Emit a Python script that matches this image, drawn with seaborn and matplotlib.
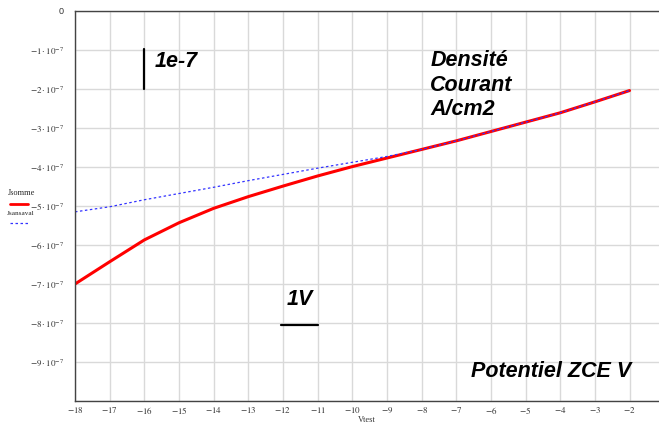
import matplotlib
matplotlib.use("Agg")
import matplotlib.pyplot as plt
import pandas as pd
import seaborn as sns
from matplotlib.lines import Line2D
from matplotlib.ticker import FixedLocator, FuncFormatter

# Vtest values and current densities (A/cm2)
vtest = [-18, -17, -16, -15, -14, -13, -12, -11, -10, -9, -8, -7, -6, -5, -4, -3, -2]
jsomme = [-7.00, -6.43, -5.87, -5.43, -5.06, -4.76, -4.49, -4.23, -3.99, -3.77,
          -3.55, -3.33, -3.09, -2.85, -2.61, -2.33, -2.04]
jsansaval = [-5.15, -5.02, -4.84, -4.68, -4.52, -4.35, -4.19, -4.03, -3.88, -3.73,
             -3.55, -3.33, -3.09, -2.85, -2.61, -2.33, -2.04]

df = pd.DataFrame({"Vtest": vtest,
                   "Jsomme": [v * 1e-7 for v in jsomme],
                   "Jsansaval": [v * 1e-7 for v in jsansaval]})

sns.set_style("white")
plt.rcParams["font.family"] = ["Liberation Sans", "DejaVu Sans"]
plt.rcParams["mathtext.fontset"] = "stix"

fig = plt.figure(figsize=(6.59, 4.25), dpi=100)
ax = fig.add_axes([75 / 659, 1 - 401 / 425, 584 / 659, 390 / 425])

sns.lineplot(data=df, x="Vtest", y="Jsomme", ax=ax, color="#ff0000", lw=2.2)
sns.lineplot(data=df, x="Vtest", y="Jsansaval", ax=ax, color="#3333ff",
             lw=0.9, linestyle=(0, (2, 2)))

ax.set_xlim(-18, -1.15)
ax.set_ylim(-10e-7, 0)
ax.xaxis.set_major_locator(FixedLocator(list(range(-18, -1))))
ax.yaxis.set_major_locator(FixedLocator([-k * 1e-7 for k in range(0, 11)]))


def yfmt(v, pos):
    k = int(round(-v / 1e-7))
    if k == 0:
        return "0"
    if k == 10:
        return ""
    return r"$-%d\cdot10^{-7}$" % k


ax.yaxis.set_major_formatter(FuncFormatter(yfmt))
ax.xaxis.set_major_formatter(FuncFormatter(lambda v, p: r"$-%d$" % abs(int(round(v)))))
ax.tick_params(length=0, labelsize=6.5, colors="#333333")
ax.tick_params(axis="y", pad=8)
ax.tick_params(axis="x", pad=3)
ax.grid(True, color="#d9d9d9", lw=1)
ax.set_axisbelow(True)
ax.set_xlabel("Vtest", family="Liberation Serif", fontsize=6, labelpad=0, color="#333333")
ax.set_ylabel("")
for s in ["left", "top", "bottom"]:
    ax.spines[s].set_color("#444444")
    ax.spines[s].set_linewidth(1)
ax.spines["right"].set_visible(False)

# scale bars and annotations
ax.plot([-16, -16], [-0.98e-7, -2.0e-7], color="black", lw=1.6)
ax.plot([-12.05, -11.0], [-8.05e-7, -8.05e-7], color="black", lw=1.6)
bi = dict(fontsize=15.5, fontweight="bold", fontstyle="italic", color="black")
ax.text(-15.7, -1.3e-7, "1e-7", va="center", ha="left", **bi)
ax.text(-11.5, -7.4e-7, "1V", va="center", ha="center", **bi)
ax.text(-7.75, -1.9e-7, "Densité\nCourant\nA/cm2", va="center", ha="left",
        linespacing=1.2, **bi)
ax.text(-1.95, -9.25e-7, "Potentiel ZCE V", va="center", ha="right", **bi)

# legend outside the axes on the left
fig.text(8 / 659, 1 - 193 / 425, "Jsomme", family="Liberation Serif", fontsize=6,
         va="center", ha="left")
fig.add_artist(Line2D([10 / 659, 28 / 659], [1 - 204 / 425] * 2, color="#ff0000", lw=2))
fig.text(7 / 659, 1 - 213 / 425, "Jsansaval", family="Liberation Serif", fontsize=5.2,
         va="center", ha="left")
fig.add_artist(Line2D([10 / 659, 28 / 659], [1 - 223 / 425] * 2, color="#3333ff",
                      lw=0.9, linestyle=(0, (2, 2))))

fig.savefig("out.png", dpi=100)
